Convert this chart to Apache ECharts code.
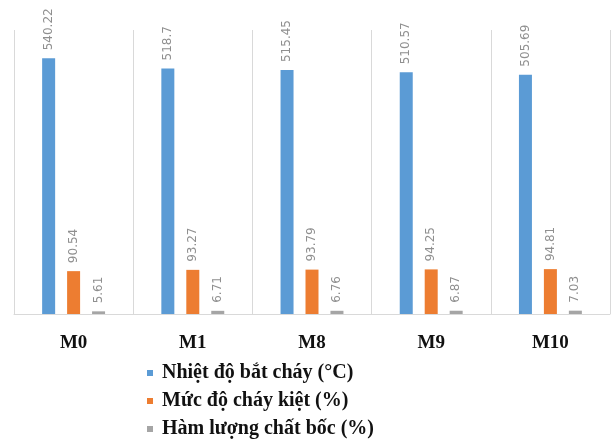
<!DOCTYPE html>
<html>
<head>
<meta charset="utf-8">
<script src="https://cdn.jsdelivr.net/npm/echarts@6/dist/echarts.min.js"></script>
<style>
  html, body { margin: 0; padding: 0; background: #fff; }
  #chart { width: 614px; height: 439px; }
</style>
</head>
<body>
<div id="chart"></div>
<script>
// Samples and measured properties
const categories = ['M0', 'M1', 'M8', 'M9', 'M10'];
const seriesNames = ['Nhiệt độ bắt cháy (°C)', 'Mức độ cháy kiệt (%)', 'Hàm lượng chất bốc (%)'];
const ignitionTemp = [540.22, 518.7, 515.45, 510.57, 505.69];
const burnoutLevel = [90.54, 93.27, 93.79, 94.25, 94.81];
const volatileContent = [5.61, 6.71, 6.76, 6.87, 7.03];

const colors = ['#5b9bd5', '#ed7d31', '#a5a5a5'];

const chart = echarts.init(document.getElementById('chart'));

function makeSeries(name, data, color) {
  return {
    name: name,
    type: 'bar',
    data: data,
    barWidth: 13,
    barGap: '92%',
    itemStyle: { color: color },
    label: {
      show: true,
      position: 'top',
      rotate: 90,
      align: 'left',
      verticalAlign: 'middle',
      distance: 8,
      color: '#8f8f8f',
      fontFamily: 'DejaVu Sans',
      fontSize: 12
    }
  };
}

chart.setOption({
  animation: false,
  backgroundColor: '#ffffff',
  color: colors,
  grid: { left: 14, right: 4, top: 30, bottom: 125, containLabel: false },
  xAxis: {
    type: 'category',
    data: categories,
    axisLine: { show: true, lineStyle: { color: '#d9d9d9', width: 1 } },
    axisTick: { show: false },
    splitLine: { show: true, lineStyle: { color: '#d9d9d9', width: 1 } },
    axisLabel: {
      margin: 20,
      color: '#111',
      fontFamily: 'Liberation Serif',
      fontWeight: 'bold',
      fontSize: 19
    }
  },
  yAxis: {
    type: 'value',
    min: 0,
    max: 600,
    show: false,
    splitLine: { show: false }
  },
  legend: {
    orient: 'vertical',
    left: 147,
    top: 363,
    height: 120,
    padding: 0,
    itemWidth: 6,
    itemHeight: 6,
    itemGap: 8,
    icon: 'rect',
    textStyle: {
      color: '#111',
      fontFamily: 'Liberation Serif',
      fontWeight: 'bold',
      fontSize: 20,
      padding: [0, 0, 0, 4]
    },
    data: seriesNames
  },
  series: [
    makeSeries(seriesNames[0], ignitionTemp, colors[0]),
    makeSeries(seriesNames[1], burnoutLevel, colors[1]),
    makeSeries(seriesNames[2], volatileContent, colors[2])
  ]
});
</script>
</body>
</html>
